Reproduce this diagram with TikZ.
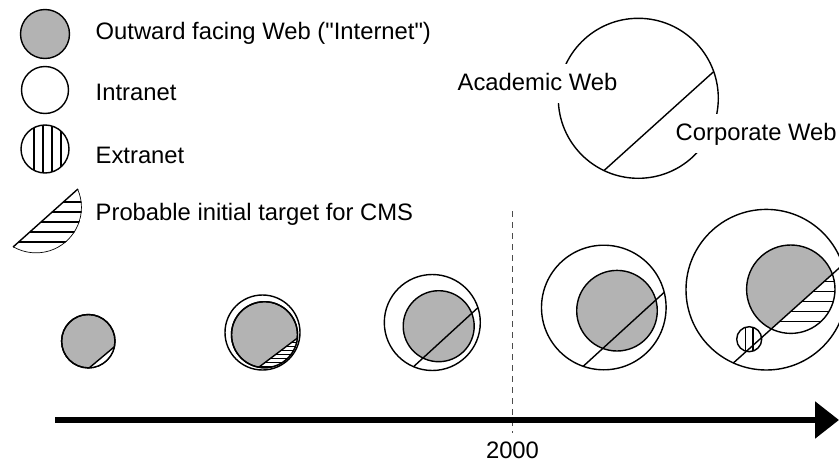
\documentclass[tikz,border=0pt]{standalone}
\usepackage{fontspec}
\setmainfont{Liberation Sans}[Ligatures=TeXOff]
\usetikzlibrary{arrows.meta,calc}
\definecolor{webgray}{RGB}{179,179,179}
\begin{document}
\begin{tikzpicture}[x=1pt,y=-1pt,line width=1.4pt,
  webfill/.style={fill=webgray,draw=black},
  whitefill/.style={fill=white,draw=black},
  hatchline/.style={draw=black,line width=1.3pt},
  finehatch/.style={draw=black,line width=0.9pt},
  lbl/.style={font=\fontsize{23.8}{28}\selectfont,inner sep=0pt,anchor=base west},
  cutlbl/.style={font=\fontsize{23.8}{28}\selectfont,fill=white,inner xsep=3pt,inner ysep=9pt,text height=17pt,text depth=4pt,anchor=base west},
  timeline/.style={line width=5.5pt,-{Triangle[length=24pt,width=36pt]}},
  divider/.style={draw=black!70,line width=1.8pt,dash pattern=on 6pt off 5pt}]
\useasboundingbox (0,0) rectangle (839,463);
\clip (0,0) rectangle (839,463);

% ---------- legend ----------
\coordinate (lg1) at (45,34);
\draw[webfill] (lg1) circle[radius=24.5];
\node[lbl] (t1) at (95,39) {Outward facing Web ("Internet")};

\coordinate (lg2) at (45,90);
\draw[whitefill] (lg2) circle[radius=23.5];
\node[lbl] (t2) at (95,100) {Intranet};

\coordinate (lg3) at (45,149);
\draw[whitefill] (lg3) circle[radius=24];
\begin{scope}
  \clip (lg3) circle[radius=24];
  \foreach \x in {34,43,52,61} \draw[hatchline] (\x,120) -- (\x,180);
\end{scope}
\node[lbl] (t3) at (95,163) {Extranet};

\coordinate (lg4) at (36,207.4);
\coordinate (lg4a) at ($(lg4)+(-23.7:45.8)$);
\coordinate (lg4b) at ($(lg4)+(120.1:45.8)$);
\begin{scope}
  \clip (lg4) circle[radius=45.8];
  \clip (lg4a) -- (lg4b) -- ($(lg4b)+(60,60)$) -- ($(lg4a)+(60,60)$) -- cycle;
  \fill[white] (lg4) circle[radius=47];
  \foreach \y in {202,212,222,232,242} \draw[hatchline] (0,\y) -- (100,\y);
  \draw (lg4) circle[radius=45.8];
\end{scope}
\draw (lg4a) -- (lg4b);
\node[lbl] (t4) at (95,220) {Probable initial target for CMS};

% ---------- top-right key ----------
\coordinate (twc) at (638.3,98.3);
\draw (twc) circle[radius=80];
\coordinate (twa) at ($(twc)+(115.4:80)$);
\coordinate (twb) at ($(twc)+(-19.5:80)$);
\draw (twa) -- (twb);
\node[cutlbl] (acad) at (454,90) {Academic Web};
\node[cutlbl] (corp) at (672,140) {Corporate Web};

% ---------- stage 1 ----------
\coordinate (s1g) at (88.3,341.2);
\coordinate (s1a) at ($(s1g)+(88:26.7)$);
\coordinate (s1b) at ($(s1g)+(12:26.7)$);
\draw[webfill] (s1g) circle[radius=26.7];
\begin{scope}
  \clip (s1g) circle[radius=26.7];
  \clip (s1a) -- (s1b) -- ($(s1b)+(30,30)$) -- ($(s1a)+(30,30)$) -- cycle;
  \fill[white] (s1g) circle[radius=28];
\end{scope}
\draw (s1g) circle[radius=26.7];
\draw (s1a) -- (s1b);

% ---------- stage 2 ----------
\coordinate (s2i) at (262.5,332.5);
\coordinate (s2g) at (264.5,334.7);
\coordinate (s2a) at ($(s2g)+(100:33)$);
\coordinate (s2b) at ($(s2g)+(6:33)$);
\draw[whitefill] (s2i) circle[radius=37.5];
\draw[webfill] (s2g) circle[radius=33];
\begin{scope}
  \clip (s2g) circle[radius=33];
  \clip (s2a) -- (s2b) -- ($(s2b)+(30,30)$) -- ($(s2a)+(30,30)$) -- cycle;
  \fill[white] (s2g) circle[radius=34];
  \foreach \y in {338,342,...,370} \draw[finehatch] (240,\y) -- (300,\y);
\end{scope}
\draw (s2g) circle[radius=33];
\draw (s2a) -- (s2b);

% ---------- stage 3 ----------
\coordinate (s3o) at (432.3,322.5);
\coordinate (s3g) at (438.7,326.2);
\coordinate (s3a) at ($(s3o)+(113:48)$);
\coordinate (s3b) at ($(s3o)+(-18:48)$);
\draw[whitefill] (s3o) circle[radius=48];
\draw[webfill] (s3g) circle[radius=35.5];
\draw (s3a) -- (s3b);

% ---------- divider ----------
\coordinate (dtop) at (512.5,211);
\coordinate (dbot) at (512.5,433);
\draw[divider] (dtop) -- (dbot);

% ---------- stage 4 ----------
\coordinate (s4o) at (603.8,307.5);
\coordinate (s4g) at (617,310.7);
\coordinate (s4a) at ($(s4o)+(109.3:62.3)$);
\coordinate (s4b) at ($(s4o)+(-14.1:62.3)$);
\draw[whitefill] (s4o) circle[radius=62.3];
\draw[webfill] (s4g) circle[radius=40.3];
\draw (s4a) -- (s4b);

% ---------- stage 5 ----------
\coordinate (s5o) at (766.3,289.7);
\coordinate (s5g) at (790.8,289.2);
\coordinate (s5a) at ($(s5o)+(114.2:80.3)$);
\coordinate (s5b) at ($(s5o)+(-18:80.3)$);
\draw[whitefill] (s5o) circle[radius=80.3];
\begin{scope}
  \clip (s5g) circle[radius=44.2];
  \clip (s5a) -- (s5b) -- ($(s5b)+(-90,-90)$) -- ($(s5a)+(-90,-90)$) -- cycle;
  \fill[webgray] (s5g) circle[radius=46];
\end{scope}
\begin{scope}
  \clip (s5g) circle[radius=44.2];
  \clip (s5a) -- (s5b) -- ($(s5b)+(90,90)$) -- ($(s5a)+(90,90)$) -- cycle;
  \foreach \y in {281.7,291.7,301.7,311.7,321.7} \draw[hatchline] (740,\y) -- (839,\y);
\end{scope}
\draw (s5g) circle[radius=44.2];
\coordinate (s5x) at (749.2,339.2);
\draw[whitefill] (s5x) circle[radius=12.5];
\begin{scope}
  \clip (s5x) circle[radius=12.5];
  \draw[hatchline] (745.5,320) -- (745.5,360);
  \draw[hatchline] (753,320) -- (753,360);
\end{scope}
\draw (s5a) -- (s5b);

% ---------- timeline ----------
\coordinate (tstart) at (55,420);
\coordinate (tend) at (839,420);
\draw[timeline] (tstart) -- (tend);
\node[font=\fontsize{23.8}{28}\selectfont,inner sep=0pt,anchor=base] (y2000) at (512.5,458) {2000};
\end{tikzpicture}
\end{document}
